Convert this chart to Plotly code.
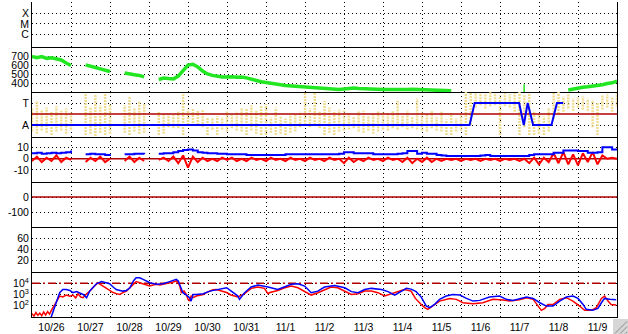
import plotly.graph_objects as go
from plotly.subplots import make_subplots

# ---------------- data ----------------
day_labels = ['10/26', '10/27', '10/28', '10/29', '10/30', '10/31', '11/1', '11/2',
              '11/3', '11/4', '11/5', '11/6', '11/7', '11/8', '11/9']
label_pos = [i + 0.5 for i in range(len(day_labels))]   # noon of each day (days since 10/26 00:00)

# 3-hour sample times (days since 10/26 00:00)
t3h = [k * 0.125 for k in range(121)]
N = None

# solar-wind speed (km/s), 3-h samples
speed = [700, 685, 698, 678, 684, 668, 660, 625, 598,
         N, N,
         605, 585, 575, 560, 548, 530,
         N, N,
         512, 500, 493, 486, 470,
         N, N,
         440, 456, 450, 446, 478, 548, 602, 612, 582, 535, 503, 486, 472, 468,
         468, 472, 465, 468, 458, 440, 422, 414, 405, 400, 392, 380, 372, 368, 364, 360, 356, 352, 348, 346,
         342, 338, 334, 326, 332, 342, 345, 338, 334, 332, 330, 328, 327, 326, 325, 326, 324, 327, 331, 329,
         325, 322, 320, 318, 315, 313, 312,
         N, N, N, N, N, N, N, N, N, N, N, N, N, N, N, N, N, N, N, N, N, N, N,
         322, 332, 348, 352, 357, 362, 368, 380, 395, 402, 420]
speed_spike_t = [12.62, 12.62]
speed_spike_v = [300, 385]

# IMF angle cloud (T = +1, A = -1): low / high per 3-h bin
phi_lo = [-1.6, -1.8, -1.5, -1.7, -1.9, -1.6, -1.5, -1.8, -1.4,
          N, N,
          -1.9, -1.8, -2.0, -1.7, -1.9, -1.8,
          N, N,
          -1.7, -1.9, -1.6, -1.8, -1.7,
          N, N,
          -1.9, -1.8, -1.2, -1.3, -1.3, -1.9, -1.0, -1.1, -1.0, -1.2, -1.9, -1.4, -1.9, -1.4,
          -1.6, -1.3, -1.5, -1.6, -1.9, -1.5, -1.8, -1.9, -1.9, -1.7,
          -1.9, -1.8, -1.9, -1.7, -1.6, -1.2, -1.0, -1.2, -1.0, -1.3,
          -1.9, -1.7, -1.9, -1.6, -1.5, -1.4, -1.3, -1.6, -1.7, -1.5,
          -1.8, -1.6, -1.4, -1.5, -1.3, -1.4, -1.2, -1.4, -1.3, -1.4,
          -1.5, -1.6, -1.3, -1.5, -1.6, -1.9, -1.9, -1.6, -1.5, -1.9,
          -1.0, 0.6, 0.8, 0.5, 0.7, 0.8, -1.9, 0.7, 0.6, 0.2,
          -1.9, -1.2, -1.9, -1.9, -1.8, -1.9, -1.6, -0.4, 0.0, 0.2,
          0.5, 0.3, 0.6, 0.4, 0.3, -1.2, -1.9, 0.4, 0.6, 0.2, 0.7]
phi_hi = [0.5, 1.2, 0.4, 0.6, 0.2, 0.7, 0.3, 0.5, 0.2,
          N, N,
          1.9, 0.6, 1.8, 0.8, 1.9, 0.9,
          N, N,
          0.8, 1.6, 0.5, 1.2, 0.9,
          N, N,
          0.2, 0.1, 0.0, -0.1, 0.2, 1.8, 0.4, 0.5, 0.3, 0.4, -0.3, -0.4, -0.2, -0.3,
          0.3, -0.1, 0.2, 0.5, 0.5, 0.8, 0.3, 0.7, 0.9, -0.3,
          0.6, -0.2, -0.4, -0.1, 0.0, 0.2, 2.0, 0.5, 2.0, 0.2,
          1.2, 0.6, 0.3, 0.4, 0.3, 0.1, -0.2, 0.3, 0.3, -0.2,
          0.1, 0.3, 0.2, 0.1, 0.3, 1.2, -0.1, 0.3, -0.2, 1.4,
          0.2, 0.0, 0.3, -0.3, 0.2, -0.5, 0.1, -0.4, 0.0, 2.0,
          2.0, 1.9, 1.9, 1.8, 2.0, 1.9, 1.7, 1.9, 1.8, 1.9,
          2.0, 1.7, 1.9, 0.3, 0.0, -0.2, 0.5, 1.9, 2.0, 1.6,
          1.8, 1.4, 1.5, 1.6, 1.4, 1.3, 1.0, 1.7, 1.8, 1.5, 1.9]

# sector polarity line
sector_t = [0.0, 11.22, 11.35, 12.49, 12.61, 12.71, 12.85, 13.32, 13.46, 13.62]
sector_v = [-1, -1, 1, 1, -1, 1, -1, -1, 1, 1]

# IMF Bt (blue) and Bz (red), nT, 3-h samples
bt = [5, 5.5, 4.5, 5, 5.5, 5, 5.5, 6, 7.5,
      N, N,
      4, 4.5, 4, 4, 3.5, 4,
      N, N,
      4, 4, 4.5, 4.5, 4,
      N, N,
      4.5, 5, 5, 6, 7, 8, 8.5, 7.5, 6, 5.5, 5, 5, 4.5, 4.5,
      4, 4, 4, 4, 3.5, 3.5, 3.5, 3.5, 3.5, 3.5, 3.5, 3.5, 4, 4, 4, 4, 4, 4, 4, 4,
      4, 4, 4, 4.5, 6, 6, 5, 5, 5, 5, 4, 4, 4, 4, 4, 4.5, 5, 7, 7, 4.5,
      5.5, 4.5, 4.5, 3.5, 3, 2.5, 2.5, 2.5, 2.5, 2.5, 2.5, 2.5, 3, 3.5, 2.5, 2.5,
      2.5, 2.5, 2.5, 2.5, 2.5, 2.5, 3.5, 4, 4, 4, 4, 5.5, 5.5, 7.5, 7.5, 7.5,
      7, 7, 5.5, 5.5, 6, 10.5, 10.5, 8.5, 8.5]
bz = [-2, 2, -3, 1, -2, 3, -3, 1, -1,
      N, N,
      -3, 1, -2, 2, -3, 0,
      N, N,
      -2, 2, -3, 1, -2,
      N, N,
      -1, 1, -2, 2, -4, 3, -8, 2, -3, 1, -2, 0, -2, 1,
      -1, 1, -2, 0, -2, 1, -1, 0, -2, 1, -1, 0, -2, 1, -1, 0, -2, 1, -1, 0,
      -2, 1, -1, 0, -4, 1, -3, 0, -2, 1, -1, 0, -2, 1, -1, 0, -3, 1, -4, 0,
      -3, 1, -3, 0, -2, 0, -1, 0, -2, 0, -1, 0, -2, 0, -1, 0,
      -2, 0, -1, 0, -2, 0, -4, 1, -5, 1, -3, 5, -4, 6, -5, 4,
      -6, 5, -3, 6, -5, 3, 0, 1, 0]

# particle flux (log axis)
flux_red_t = [0.0, 0.05, 0.1, 0.15, 0.2, 0.25, 0.3, 0.35, 0.4, 0.45,
              0.5, 0.54, 0.62, 0.71, 0.79, 0.88, 0.97, 1.05, 1.12, 1.18,
              1.25, 1.31, 1.38, 1.44, 1.56, 1.69, 1.75, 1.82, 1.9, 1.99,
              2.08, 2.16, 2.25, 2.33, 2.42, 2.51, 2.6, 2.67, 2.76, 2.85,
              2.94, 3.02, 3.1, 3.19, 3.28, 3.36, 3.45, 3.53, 3.62, 3.7,
              3.75, 3.79, 3.83, 3.9, 3.96, 4.0, 4.04, 4.08, 4.13, 4.21,
              4.3, 4.39, 4.47, 4.56, 4.64, 4.73, 4.82, 4.9, 4.99, 5.1,
              5.28, 5.35, 5.45, 5.62, 5.79, 5.96, 6.05, 6.1, 6.3, 6.48,
              6.65, 6.82, 6.99, 7.16, 7.33, 7.5, 7.67, 7.84, 8.02, 8.19,
              8.36, 8.53, 8.7, 8.87, 9.04, 9.21, 9.38, 9.55, 9.72, 9.83,
              9.98, 10.07, 10.15, 10.28, 10.45, 10.71, 10.88, 11.05, 11.31, 11.56,
              11.82, 12.08, 12.25, 12.5, 12.68, 12.85, 12.97, 13.06, 13.15, 13.23,
              13.36, 13.53, 13.7, 13.87, 14.04, 14.17, 14.34, 14.47, 14.6, 14.68,
              14.77, 14.85, 14.98]
flux_red = [20, 12, 25, 14, 22, 13, 28, 15, 30, 18,
            40, 68, 260, 730, 600, 900, 700, 890, 500, 1170,
            600, 520, 1000, 1450, 4000, 11000, 8000, 5600, 3500, 2000,
            1500, 1200, 1000, 1450, 2000, 4000, 9000, 14000, 11000, 9000,
            7000, 5600, 7000, 8000, 7000, 8000, 9000, 11000, 13000, 16000,
            11000, 5600, 1450, 2000, 1000, 370, 260, 730, 520, 730,
            890, 1000, 1450, 2000, 2600, 2800, 2300, 1800, 1500, 900,
            600, 800, 1170, 3500, 4600, 3500, 1170, 1500, 2300, 4000,
            5600, 4000, 1800, 890, 1450, 2800, 4600, 4000, 1800, 1000,
            1170, 2000, 2000, 1450, 730, 1170, 2000, 2800, 2000, 450,
            130, 68, 48, 94, 260, 450, 370, 185, 150, 185,
            370, 320, 260, 340, 520, 370, 94, 39, 59, 130,
            130, 370, 520, 260, 94, 39, 39, 68, 450, 730,
            260, 130, 115]
flux_blue_t = [0.0, 0.45, 0.5, 0.58, 0.64, 0.71, 0.79, 0.88, 0.97, 1.05,
               1.14, 1.22, 1.31, 1.4, 1.48, 1.65, 1.78, 1.9, 1.99, 2.08,
               2.16, 2.33, 2.42, 2.51, 2.6, 2.67, 2.76, 2.85, 2.94, 3.02,
               3.19, 3.36, 3.53, 3.7, 3.75, 3.79, 3.87, 3.96, 4.04, 4.08,
               4.13, 4.21, 4.39, 4.56, 4.73, 4.9, 4.99, 5.11, 5.28, 5.32,
               5.45, 5.62, 5.79, 6.05, 6.3, 6.65, 6.82, 6.99, 7.16, 7.33,
               7.5, 7.76, 8.02, 8.19, 8.36, 8.53, 8.7, 8.96, 9.13, 9.3,
               9.47, 9.6, 9.72, 9.85, 9.98, 10.03, 10.11, 10.2, 10.32, 10.45,
               10.62, 10.79, 10.97, 11.14, 11.31, 11.48, 11.73, 11.99, 12.16, 12.33,
               12.5, 12.68, 12.85, 13.02, 13.19, 13.36, 13.53, 13.7, 13.87, 14.0,
               14.13, 14.21, 14.38, 14.51, 14.6, 14.68, 14.81, 14.98]
flux_blue = [5, 5, 12, 68, 260, 1450, 2800, 2800, 2300, 1450,
             1800, 1450, 1000, 520, 2000, 9000, 14000, 11000, 9000, 4600,
             2800, 2000, 2300, 4000, 16000, 31000, 31000, 22000, 16000, 11000,
             8000, 9000, 14000, 22000, 16000, 8000, 1450, 890, 520, 260,
             1000, 1000, 1170, 2000, 2800, 3500, 4000, 2000, 730, 370,
             1450, 4600, 6900, 4600, 2800, 8000, 9000, 5600, 1450, 2000,
             4600, 6300, 4000, 1800, 1450, 2800, 3500, 2800, 1800, 890,
             1800, 3500, 3000, 1800, 590, 260, 94, 68, 130, 370,
             730, 1000, 890, 450, 260, 300, 590, 730, 370, 300,
             450, 590, 450, 185, 94, 94, 260, 590, 730, 450,
             130, 48, 39, 59, 185, 450, 370, 340]
flux_threshold = 1e4

# ---------------- figure ----------------
GREEN = '#22E622'
RED = '#FF0000'
BLUE = '#0000FF'
DARKRED = '#B00000'
YELLOW = '#F0DC8E'
FONT = 'Liberation Sans, Arial, sans-serif'
XR = [0, 15]

fig = make_subplots(rows=7, cols=1, shared_xaxes=True, vertical_spacing=0)

# row 1: flare class panel (no events) - placeholder so the axes are drawn
fig.add_trace(go.Scatter(x=XR, y=[None, None], mode='lines'), row=1, col=1)

# row 2: speed
fig.add_trace(go.Scatter(x=t3h, y=speed, mode='lines', connectgaps=False,
                         line=dict(color=GREEN, width=3.5)), row=2, col=1)
fig.add_trace(go.Scatter(x=speed_spike_t, y=speed_spike_v, mode='lines',
                         line=dict(color=GREEN, width=1.5)), row=2, col=1)

# row 3: sector
seg_x, seg_y = [], []
for t, lo, hi in zip(t3h, phi_lo, phi_hi):
    if lo is None or hi is None:
        continue
    seg_x += [t, t, None]
    seg_y += [lo, hi, None]
fig.add_trace(go.Scatter(x=seg_x, y=seg_y, mode='lines',
                         line=dict(color=YELLOW, width=2.5, dash='2px,1px')), row=3, col=1)
fig.add_trace(go.Scatter(x=XR, y=[0, 0], mode='lines',
                         line=dict(color=DARKRED, width=1.5)), row=3, col=1)
fig.add_trace(go.Scatter(x=sector_t, y=sector_v, mode='lines',
                         line=dict(color=BLUE, width=2)), row=3, col=1)

# row 4: IMF
fig.add_trace(go.Scatter(x=XR, y=[0, 0], mode='lines',
                         line=dict(color=DARKRED, width=1.5)), row=4, col=1)
fig.add_trace(go.Scatter(x=t3h, y=bz, mode='lines', connectgaps=False,
                         line=dict(color=RED, width=2)), row=4, col=1)
fig.add_trace(go.Scatter(x=t3h, y=bt, mode='lines', connectgaps=False, line_shape='hv',
                         line=dict(color=BLUE, width=2)), row=4, col=1)

# row 5: zero line
fig.add_trace(go.Scatter(x=XR, y=[0, 0], mode='lines',
                         line=dict(color=DARKRED, width=1.5)), row=5, col=1)

# row 6: empty panel - placeholder so the axes are drawn
fig.add_trace(go.Scatter(x=XR, y=[None, None], mode='lines'), row=6, col=1)

# row 7: flux
fig.add_trace(go.Scatter(x=XR, y=[flux_threshold, flux_threshold], mode='lines',
                         line=dict(color=DARKRED, width=1.5, dash='8px,3px,2px,3px')), row=7, col=1)
fig.add_trace(go.Scatter(x=flux_red_t, y=flux_red, mode='lines',
                         line=dict(color=RED, width=1.5)), row=7, col=1)
fig.add_trace(go.Scatter(x=flux_blue_t, y=flux_blue, mode='lines',
                         line=dict(color=BLUE, width=1.5)), row=7, col=1)

grid = dict(showgrid=True, gridcolor='black', griddash='1px,3px', gridwidth=1)

fig.update_xaxes(range=XR, tickmode='array', tickvals=label_pos, ticktext=day_labels,
                 ticks='', showgrid=False, zeroline=False,
                 showline=True, linecolor='black', linewidth=1,
                 minor=dict(tickmode='linear', tick0=0, dtick=1, ticks='', **grid),
                 tickfont=dict(family=FONT, size=10.5, color='black'))

yspecs = {
    1: dict(range=[-0.2, 4.09], tickvals=[3, 2, 1], ticktext=['X', 'M', 'C']),
    2: dict(range=[299, 806], tickvals=[700, 600, 500, 400], ticktext=['700', '600', '500', '400']),
    3: dict(range=[-2.09, 2.0], tickvals=[1, -1], ticktext=['T', 'A']),
    4: dict(range=[-21, 19.7], tickvals=[10, 0, -10], ticktext=['10', '0', '-10']),
    5: dict(range=[-200, 100], tickvals=[0, -100], ticktext=['0', '-100']),
    6: dict(range=[0, 80], tickvals=[60, 40, 20], ticktext=['60', '40', '20']),
    7: dict(type='log', range=[1, 5], tickvals=[1e4, 1e3, 1e2],
            ticktext=['10<sup>4</sup>', '10<sup>3</sup>', '10<sup>2</sup>']),
}
for r, spec in yspecs.items():
    fig.update_yaxes(row=r, col=1, tickmode='array', ticks='', zeroline=False,
                     showline=True, mirror=True, linecolor='black', linewidth=1,
                     tickfont=dict(family=FONT, size=10.5, color='black'), **grid, **spec)

# window resize grip (bottom-right corner)
fig.add_shape(type='rect', xref='paper', yref='paper', x0=0.9932, x1=1.0188, y0=-0.054, y1=-0.0063,
              fillcolor='#D6D6D6', line=dict(width=0), layer='above')
for o in [0.0, 0.009, 0.018]:
    fig.add_shape(type='line', xref='paper', yref='paper', x0=0.9966 + o, y0=-0.052,
                  x1=1.0171, y1=-0.052 + (1.0171 - 0.9966 - o) * 585 / 315,
                  line=dict(color='#8C8C8C', width=1), layer='above')

fig.update_layout(width=628, height=334, margin=dict(l=32, r=11, t=2, b=17),
                  paper_bgcolor='white', plot_bgcolor='white', showlegend=False,
                  hovermode=False, font=dict(family=FONT, size=11, color='black'))

fig.write_html('out.html', config={'displayModeBar': False},
               post_script="document.body.style.margin='0px';document.body.style.padding='0px';")
